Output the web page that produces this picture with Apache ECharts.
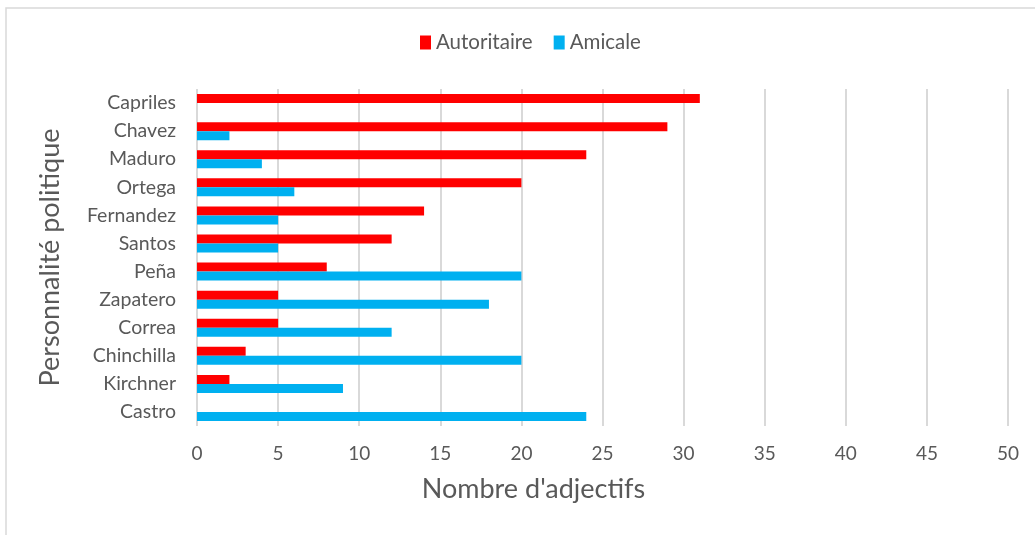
<!DOCTYPE html>
<html>
<head>
<meta charset="utf-8">
<script src="https://cdn.jsdelivr.net/npm/echarts@6/dist/echarts.min.js"></script>
<style>
  html, body { margin: 0; padding: 0; background: #fff; }
  #chart { width: 1035px; height: 535px; }
</style>
</head>
<body>
<div id="chart"></div>
<script>
// Politicians, top to bottom
const categories = ['Capriles', 'Chavez', 'Maduro', 'Ortega', 'Fernandez', 'Santos', 'Peña', 'Zapatero', 'Correa', 'Chinchilla', 'Kirchner', 'Castro'];
// Number of adjectives per politician
const autoritaire = [31, 29, 24, 20, 14, 12, 8, 5, 5, 3, 2, 0];
const amicale = [0, 2, 4, 6, 5, 5, 20, 18, 12, 20, 9, 24];
const seriesNames = ['Autoritaire', 'Amicale'];

const FONT = 'Lato, "Open Sans", sans-serif';
const TEXT = '#595959';

const chart = echarts.init(document.getElementById('chart'), null, { renderer: 'canvas' });
chart.setOption({
  animation: false,
  textStyle: { fontFamily: FONT },
  graphic: [{
    type: 'rect',
    shape: { x: 6, y: 8, width: 1040, height: 540 },
    style: { fill: 'none', stroke: '#d9d9d9', lineWidth: 1.5 },
    silent: true
  }],
  legend: {
    data: seriesNames,
    top: 27,
    left: 415,
    itemWidth: 11,
    itemHeight: 14,
    itemGap: 21,
    icon: 'rect',
    textStyle: { color: TEXT, fontSize: 20.5, fontFamily: FONT }
  },
  grid: { left: 197, right: 27, top: 89, bottom: 109, containLabel: false },
  xAxis: {
    type: 'value',
    min: 0, max: 50, interval: 5,
    name: "Nombre d'adjectifs",
    nameLocation: 'middle',
    nameGap: 50,
    // the title sits centred under the whole chart rather than the plot area
    nameTextStyle: { color: TEXT, fontSize: 27, fontFamily: FONT, padding: [0, 138, 0, 0] },
    axisLine: { show: false },
    axisTick: { show: false },
    axisLabel: { color: TEXT, fontSize: 19, margin: 18, fontFamily: FONT },
    splitLine: { lineStyle: { color: '#d9d9d9', width: 2 } }
  },
  yAxis: {
    type: 'category',
    data: categories,
    inverse: true,
    name: 'Personnalité politique',
    nameLocation: 'middle',
    nameGap: 133,
    nameRotate: 90,
    nameTextStyle: { color: TEXT, fontSize: 27, fontFamily: FONT },
    axisLine: { show: false },
    axisTick: { show: false },
    axisLabel: { color: TEXT, fontSize: 19.5, margin: 21, fontFamily: FONT }
  },
  series: [
    {
      name: seriesNames[0], type: 'bar', data: autoritaire,
      barWidth: 9, barGap: '0%',
      itemStyle: { color: '#ff0000' }
    },
    {
      name: seriesNames[1], type: 'bar', data: amicale,
      barWidth: 9, barGap: '0%',
      itemStyle: { color: '#00b0f0' }
    }
  ]
});
</script>
</body>
</html>
